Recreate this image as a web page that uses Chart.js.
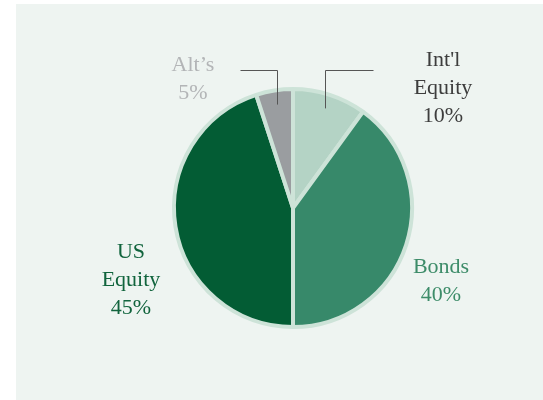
<!DOCTYPE html>
<html>
<head>
<meta charset="utf-8">
<script src="https://cdn.jsdelivr.net/npm/chart.js@4.4.1/dist/chart.umd.min.js"></script>
<style>
  html, body { margin: 0; padding: 0; background: #ffffff; }
  #wrap { width: 543px; height: 400px; }
</style>
</head>
<body>
<div id="wrap"><canvas id="allocChart" width="543" height="400"></canvas></div>
<script>
const categories = ["Int'l Equity", 'Bonds', 'US Equity', 'Alt\u2019s'];
const allocation = [10, 40, 45, 5];
const sliceColors = ['#b4d3c5', '#37896a', '#035c34', '#9a9da0'];
const textColors = ['#3d3d3d', '#3d8c69', '#11643d', '#b3b5b7'];

// label placement, px relative to pie centre (first baseline)
const labelPos = [
    { dx: 150, dy: -142, leader: 48 },
    { dx: 148, dy: 65 },
    { dx: -162, dy: 50 },
    { dx: -100, dy: -137, leader: -37 }
];

const ctx = document.getElementById('allocChart');

const panelPlugin = {
    id: 'panel',
    beforeDraw(chart) {
        const c = chart.ctx;
        c.save();
        c.fillStyle = '#eef4f1';
        c.fillRect(16, 4, chart.width - 16, chart.height - 4);
        c.restore();
    }
};

const sliceLabels = {
    id: 'sliceLabels',
    afterDraw(chart) {
        const c = chart.ctx;
        const arcs = chart.getDatasetMeta(0).data;
        c.save();
        c.font = '22px "Liberation Serif", "Times New Roman", serif';
        c.textAlign = 'center';
        c.textBaseline = 'alphabetic';
        arcs.forEach((arc, i) => {
            const pos = labelPos[i];
            const lines = categories[i].split(' ').concat(allocation[i] + '%');
            c.fillStyle = textColors[i];
            lines.forEach((t, k) => {
                c.fillText(t, arc.x + pos.dx, arc.y + pos.dy + k * 28);
            });
            if (pos.leader) {
                // leader from inside the slice up and out toward the label
                const mid = (arc.startAngle + arc.endAngle) / 2;
                const r = arc.outerRadius * 0.88;
                const px = Math.round(arc.x + Math.cos(mid) * r) + 0.5;
                const py = arc.y + Math.sin(mid) * r;
                const topY = Math.round(arc.y - 138) + 0.5;
                c.beginPath();
                c.moveTo(px, py);
                c.lineTo(px, topY);
                c.lineTo(px + pos.leader, topY);
                c.strokeStyle = '#555555';
                c.lineWidth = 1;
                c.stroke();
            }
        });
        c.restore();
    }
};

new Chart(ctx, {
    type: 'pie',
    plugins: [panelPlugin, sliceLabels],
    data: {
        labels: categories,
        datasets: [{
            data: allocation,
            backgroundColor: sliceColors,
            borderColor: '#cde3d8',
            borderWidth: 4,
            hoverOffset: 0
        }]
    },
    options: {
        responsive: false,
        animation: false,
        events: [],
        radius: 119,
        layout: {
            padding: { left: 43, right: 0, top: 16, bottom: 0 }
        },
        plugins: {
            legend: { display: false },
            tooltip: { enabled: false }
        }
    }
});
</script>
</body>
</html>
